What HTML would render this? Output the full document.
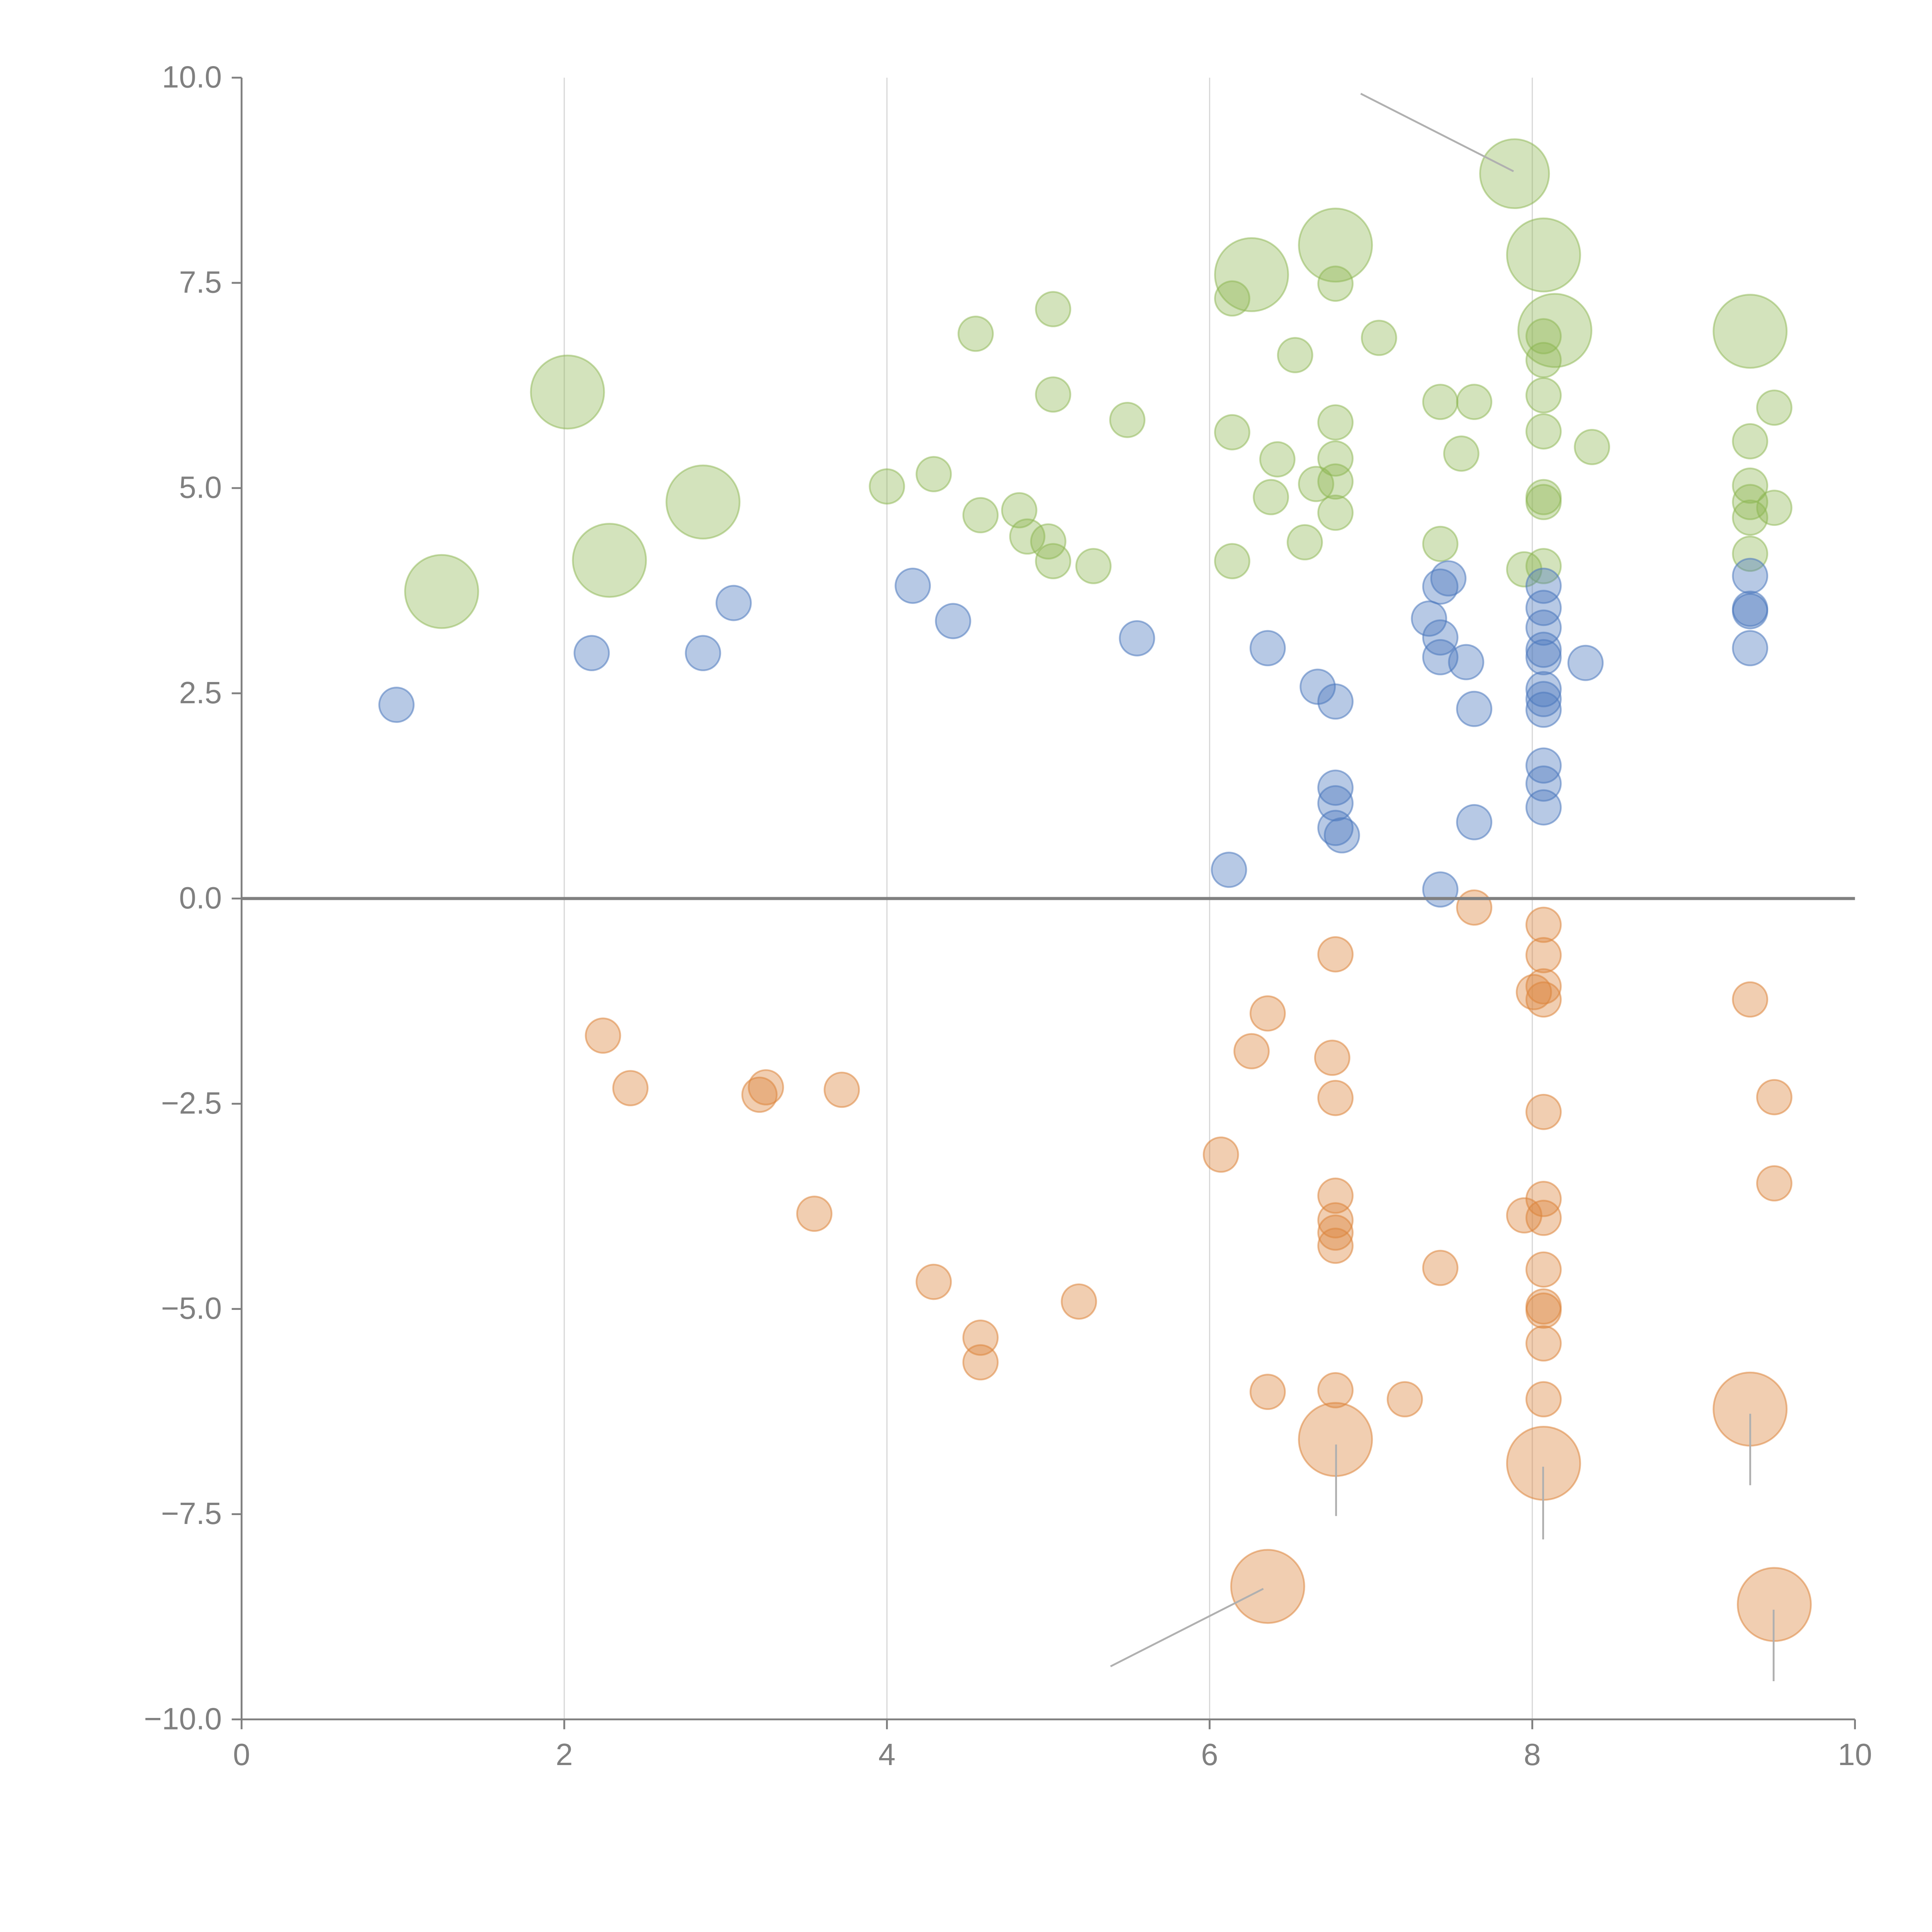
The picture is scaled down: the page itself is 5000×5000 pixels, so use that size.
<!DOCTYPE html>
<html><head><meta charset="utf-8"><style>
html,body{margin:0;padding:0;background:#fff;}
svg{display:block;}
text{font-family:"Liberation Sans",Arial,sans-serif;fill:#808080;}
</style></head><body>
<svg id="chart" xmlns="http://www.w3.org/2000/svg" width="5000" height="5000" viewBox="0 0 1567.5 1567.5">
<rect width="1567.5" height="1567.5" fill="#fff"/>
<g id="grid"></g>
<g id="marks"></g>
<g id="annot"></g>
<g id="axes"></g>
</svg>
<script>
const xTicks=[0,2,4,6,8,10];
const xTickLabels=["0","2","4","6","8","10"];
const yTicks=[10,7.5,5,2.5,0,-2.5,-5,-7.5,-10];
const yTickLabels=["10.0","7.5","5.0","2.5","0.0","\u22122.5","\u22125.0","\u22127.5","\u221210.0"];

const greenX=[6.26,6.78,7.89,8.07,8.14,9.35,2.02,2.86,2.28,1.24,
6.14,6.78,5.03,4.55,7.05,6.53,5.03,5.49,6.14,6.78,7.43,7.64,8.07,8.07,8.07,8.07,8.37,9.50,9.35,7.56,6.42,6.78,6.78,6.66,6.38,8.07,8.07,9.35,9.35,9.35,9.50,4.29,4.00,4.58,4.82,4.87,5.00,5.03,5.28,6.14,6.59,6.78,7.43,9.35,7.95,8.07];
const greenY=[7.60,7.96,8.83,7.84,6.92,6.91,6.17,4.83,4.12,3.74,
7.31,7.49,7.18,6.88,6.83,6.62,6.14,5.83,5.68,5.80,6.05,6.05,6.85,6.56,6.13,5.69,5.50,5.98,5.57,5.42,5.35,5.36,5.08,5.05,4.89,4.89,4.83,5.03,4.83,4.64,4.76,5.17,5.02,4.67,4.73,4.41,4.35,4.11,4.05,4.11,4.34,4.70,4.32,4.20,4.01,4.05];
const greenS=[4.5,4.5,4,4.5,4.5,4.5,4.5,4.5,4.5,4.5,1,1,1,1,1,1,1,1,1,1,1,1,1,1,1,1,1,1,1,1,1,1,1,1,1,1,1,1,1,1,1,1,1,1,1,1,1,1,1,1,1,1,1,1,1,1];

const blueX=[0.96,2.17,2.86,3.05,4.16,4.41,5.55,6.36,6.67,6.78,7.36,7.43,7.48,7.43,7.43,7.59,7.64,8.07,8.07,8.07,8.07,8.07,8.07,8.07,8.07,8.33,9.35,9.35,9.35,9.35,6.78,6.78,6.78,6.82,7.64,8.07,8.07,8.07,6.12,7.43];
const blueY=[2.36,2.99,2.99,3.60,3.81,3.38,3.17,3.05,2.58,2.40,3.41,3.80,3.90,3.18,2.94,2.88,2.31,3.81,3.54,3.30,3.03,2.94,2.55,2.43,2.30,2.87,3.93,3.53,3.50,3.05,1.35,1.16,0.86,0.77,0.93,1.62,1.40,1.11,0.35,0.11];

const orangeX=[2.24,2.41,3.21,3.25,3.72,3.55,4.29,4.58,4.58,5.19,6.07,6.26,6.36,6.36,6.78,6.76,6.78,6.78,6.78,6.78,6.78,6.78,7.21,7.43,7.64,8.07,8.07,8.01,8.07,8.07,8.07,8.07,8.07,7.95,8.07,8.07,8.07,8.07,8.07,9.35,9.50,9.50,
6.78,8.07,9.35,6.36,9.50];
const orangeY=[-1.67,-2.31,-2.39,-2.30,-2.33,-3.84,-4.67,-5.35,-5.65,-4.91,-3.12,-1.86,-1.40,-6.01,-0.68,-1.94,-2.43,-3.62,-3.92,-4.07,-4.23,-5.99,-6.10,-4.50,-0.11,-0.32,-0.69,-1.14,-1.07,-1.23,-2.60,-3.66,-3.89,-3.86,-4.52,-4.97,-5.02,-5.42,-6.10,-1.23,-2.42,-3.47,
-6.59,-6.88,-6.22,-8.38,-8.60];
const orangeS=orangeX.map((_,i)=>i>=42?4.5:1);
const blueS=blueX.map(()=>1);

const X0=196,X1=1505,Y0=63,Y1=1395;
const xs=v=>X0+(v-0)/(10-0)*(X1-X0);
const ys=v=>Y0+(10-v)/(20)*(Y1-Y0);
const rs=s=>14*Math.sqrt(s);
const NS="http://www.w3.org/2000/svg";
function mk(tag,attrs,parent){const e=document.createElementNS(NS,tag);for(const k in attrs)e.setAttribute(k,attrs[k]);parent.appendChild(e);return e;}

const grid=document.getElementById('grid');
[2,4,6,8].forEach(v=>{
  const l=mk('line',{x1:xs(v),x2:xs(v),y1:Y0,y2:Y1,stroke:'#d9d9d9','stroke-width':1},grid);
  
  
});

const marks=document.getElementById('marks');
function series(xa,ya,sa,fill,stroke,name){
  xa.forEach((x,i)=>{
    const c=mk('circle',{cx:xs(x),cy:ys(ya[i]),r:rs(sa[i]),fill:fill,stroke:stroke,'stroke-width':1.4},marks);
    
    
  });
}
series(greenX,greenY,greenS,'rgba(140,182,80,0.38)','rgba(140,182,80,0.5)','green-bubble');
series(blueX,blueY,blueS,'rgba(76,120,190,0.4)','rgba(76,120,190,0.55)','blue-bubble');
series(orangeX,orangeY,orangeS,'rgba(220,133,60,0.4)','rgba(220,133,60,0.55)','orange-bubble');

const annot=document.getElementById('annot');
[[1104,76,1228,139],[901,1352,1025,1289],[1084,1172,1084,1230],[1252,1190,1252,1249],[1420,1147,1420,1205],[1439,1306,1439,1364]].forEach(a=>{
  const l=mk('line',{x1:a[0],y1:a[1],x2:a[2],y2:a[3],stroke:'#b0b0b0','stroke-width':1.5},annot);
  
  
});

const axes=document.getElementById('axes');
const zl=mk('line',{x1:X0,x2:X1,y1:ys(0),y2:ys(0),stroke:'#808080','stroke-width':2.5},axes);


const ya=mk('line',{x1:X0,x2:X0,y1:Y0,y2:Y1,stroke:'#808080','stroke-width':1.5},axes);


const xa=mk('line',{x1:X0,x2:X1,y1:Y1,y2:Y1,stroke:'#808080','stroke-width':1.5},axes);


yTicks.forEach((v,i)=>{
  const t=mk('line',{x1:X0-8,x2:X0,y1:ys(v),y2:ys(v),stroke:'#808080','stroke-width':1.5},axes);
  
  
  const tx=mk('text',{x:X0-16,y:ys(v)+8,'text-anchor':'end','font-size':25},axes);
  tx.textContent=yTickLabels[i];
  
  
});
xTicks.forEach((v,i)=>{
  const t=mk('line',{x1:xs(v),x2:xs(v),y1:Y1,y2:Y1+8,stroke:'#808080','stroke-width':1.5},axes);
  
  
  const tx=mk('text',{x:xs(v),y:Y1+37,'text-anchor':'middle','font-size':25},axes);
  tx.textContent=xTickLabels[i];
  
  
});
</script>
</body></html>
